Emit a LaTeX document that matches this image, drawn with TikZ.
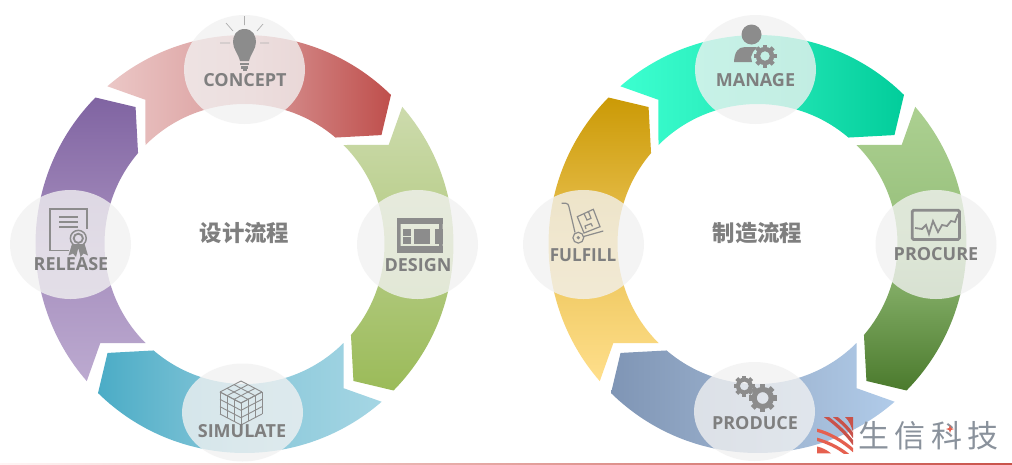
\documentclass[tikz,border=0pt]{standalone}
\usepackage{fontspec}
\setmainfont{Open Sans}
\newfontfamily\cjkfont{Noto Sans CJK SC}
\definecolor{icongray}{HTML}{8C8C8C}
\definecolor{labelgray}{HTML}{7F7F7F}
\definecolor{logored}{HTML}{E5604F}
\definecolor{logodark}{HTML}{C9524A}
\definecolor{logogray}{HTML}{8A929C}
\tikzset{
  badge/.style={fill=black!5, opacity=0.78},
  steplabel/.style={text=labelgray, font=\fontsize{18}{20}\selectfont\bfseries, inner sep=0pt},
  ringtitle/.style={text=labelgray, font=\cjkfont\fontsize{22.4}{24}\selectfont\bfseries, inner sep=0pt},
  iconline/.style={draw=icongray, line width=1.2pt},
  iconfill/.style={fill=icongray}
}
% one arrow piece of a ring: centre x, rotation, shading
\newcommand{\ringseg}[3]{
  \shade [shift={(#1,244)}, y=1pt, #3] (#2+131:209) arc
  [start angle=#2+131, end angle=#2+45.5, radius=209]
  -- (#2+38.5:175) -- (#2+49.5:140) arc
  [start angle=#2+49.5, end angle=#2+135, radius=140]
  -- (#2+124.5:175) -- cycle;
}
% gear: centre x, centre y, outer radius
\newcommand{\gearicon}[3]{
  \fill [iconfill, even odd rule] (#1,#2) circle [radius=0.8*#3pt] (#1,#2) circle [radius=0.42*#3pt];
  \foreach \t in {0,45,...,315}
    \fill [iconfill, shift={(#1,#2)}, rotate=\t] (0.7*#3,-0.19*#3) rectangle (#3,0.19*#3);
}
\begin{document}
\begin{tikzpicture}[x=1pt,y=-1pt]
  \useasboundingbox (0,0) rectangle (1012,464);
  \fill [white] (0,0) rectangle (1012,464);
  \shade [left color=red!4!white, right color=logodark] (0,463) rectangle (1012,464);

  % left ring
  \ringseg{244.5}{0}{left color={rgb,255:red,235;green,199;blue,198}, right color={rgb,255:red,191;green,79;blue,76}, middle color={rgb,255:red,217;green,154;blue,154}}
  \ringseg{244.5}{-90}{top color={rgb,255:red,205;green,219;blue,173}, bottom color={rgb,255:red,155;green,187;blue,89}}
  \ringseg{244.5}{-180}{left color={rgb,255:red,75;green,172;blue,198}, right color={rgb,255:red,165;green,214;blue,228}, middle color={rgb,255:red,136;green,199;blue,217}}
  \ringseg{244.5}{-270}{top color={rgb,255:red,128;green,100;blue,162}, bottom color={rgb,255:red,188;green,170;blue,208}, middle color={rgb,255:red,164;green,140;blue,188}}

  % right ring
  \ringseg{757.5}{0}{left color={rgb,255:red,60;green,255;blue,208}, right color={rgb,255:red,2;green,205;blue,155}, middle color={rgb,255:red,37;green,232;blue,183}}
  \ringseg{757.5}{-90}{top color={rgb,255:red,172;green,208;blue,145}, bottom color={rgb,255:red,75;green,122;blue,45}, middle color={rgb,255:red,148;green,189;blue,120}}
  \ringseg{757.5}{-180}{left color={rgb,255:red,127;green,149;blue,181}, right color={rgb,255:red,176;green,203;blue,233}, middle color={rgb,255:red,155;green,177;blue,205}}
  \ringseg{757.5}{-270}{top color={rgb,255:red,203;green,154;blue,6}, bottom color={rgb,255:red,255;green,223;blue,140}, middle color={rgb,255:red,234;green,194;blue,84}}

  % badges
  \fill [badge] (244.5,69.5) ellipse [x radius=60.5pt, y radius=54.5pt];
  \fill [badge] (417.5,244.5) ellipse [x radius=60.5pt, y radius=54.5pt];
  \fill [badge] (242.5,412.5) ellipse [x radius=60.5pt, y radius=49pt];
  \fill [badge] (70.5,244.5) ellipse [x radius=60.5pt, y radius=54.5pt];
  \fill [badge] (755.5,69.5) ellipse [x radius=60.5pt, y radius=54.5pt];
  \fill [badge] (936,244.5) ellipse [x radius=60.5pt, y radius=54.5pt];
  \fill [badge] (754.5,411.5) ellipse [x radius=60.5pt, y radius=49.5pt];
  \fill [badge] (583.5,244.5) ellipse [x radius=60.5pt, y radius=54.5pt];

  % bulb
  \draw [icongray!70, line width=0.7pt] (244.5,16) -- (244.5,25) (226,23) -- (233,31)
    (263,24) -- (257,31) (220,43) -- (230,43) (260,43) -- (269,43);
  \fill [iconfill] (244.5,29) .. controls (236,29) and (233,36) .. (233,42)
    .. controls (233,49) and (238,53) .. (240,61) -- (249,61)
    .. controls (251,53) and (256,49) .. (256,42)
    .. controls (256,36) and (253,29) .. (244.5,29) -- cycle;
  \fill [iconfill] (240,62.5) rectangle (249,65);
  \fill [iconfill] (241,66) rectangle (248,68.5);
  \fill [iconfill] (242.5,69) rectangle (246.5,70.5);

  % window
  \draw [icongray, line width=3.5pt, rounded corners=1.5pt] (398.8,219.8) rectangle (440.8,251.2);
  \fill [iconfill] (397,218) rectangle (442.5,224);
  \fill [iconfill] (403.3,229) rectangle (411,235.7);
  \fill [iconfill] (403.3,237.3) rectangle (411,243.7);
  \fill [iconfill] (414.3,229) rectangle (430,243.7);
  \fill [iconfill] (435,229) rectangle (442.5,244);
  \fill [iconfill] (397,246) rectangle (442.5,253);

  % cube
  \foreach \i in {0,1,2,3} {
    \draw [icongray, line width=0.9pt] (220,392+\i*7.33) -- (241,403+\i*7.33) -- (262,392+\i*7.33);
    \draw [icongray, line width=0.9pt] (220+\i*7,392+\i*3.67) -- (220+\i*7,414+\i*3.67);
    \draw [icongray, line width=0.9pt] (241+\i*7,403-\i*3.67) -- (241+\i*7,425-\i*3.67);
    \draw [icongray, line width=0.9pt] (220+\i*7,392-\i*3.67) -- (241+\i*7,403-\i*3.67);
    \draw [icongray, line width=0.9pt] (220+\i*7,392+\i*3.67) -- (241+\i*7,381+\i*3.67);
  }

  % certificate
  \draw [iconline] (87,229) -- (87,209) -- (50,209) -- (50,250.5) -- (69,250.5);
  \draw [iconline] (59,217) -- (78,217) (59,222) -- (78,222) (59,227) -- (78,227);
  \fill [iconfill] (72,244) -- (68.5,255.5) -- (73,253.5) -- (76,257) -- (78.3,248) -- (80.6,257)
    -- (83.6,253.5) -- (88,255.5) -- (84.6,244) -- cycle;
  \fill [iconfill, even odd rule] (78.3,238.3) circle [radius=8.7pt] (78.3,238.3) circle [radius=7.2pt];
  \fill [iconfill, even odd rule] (78.3,238.3) circle [radius=5.6pt] (78.3,238.3) circle [radius=3.6pt];

  % manager
  \fill [iconfill] (751.5,34.5) circle [radius=10pt];
  \fill [iconfill] (734,62) .. controls (734.5,52) and (738,47) .. (745,47) -- (757,47)
    -- (753,52) -- (751,57) -- (752,62) -- cycle;
  \gearicon{765}{56}{11.5}

  % chart
  \draw [icongray, line width=2.8pt, rounded corners=1.5pt] (912.2,210.2) rectangle (959.5,239.5);
  \draw [icongray, line width=1.8pt] (915,228) -- (922,229) -- (926,225) -- (929,234) -- (933,221)
    -- (938,232) -- (942,225) -- (947,226) -- (951,221) -- (955,222) -- (958,214);

  % gears
  \gearicon{744.3}{386}{10.5}
  \gearicon{762.7}{398}{14}

  % hand truck
  \draw [iconline] (561.7,203.3) -- (566,203.3) .. controls (568,203.3) and (568.5,205) .. (569,207) -- (575,232.5);
  \draw [iconline] (578.3,237.7) circle [radius=5.4pt];
  \fill [iconfill] (578.3,237.7) circle [radius=1.8pt];
  \draw [iconline] (583.6,236.5) -- (603.3,231);
  \draw [iconline] (577.3,216.7) -- (593.3,209.3) -- (600,226.7) -- (584,233) -- cycle;
  \draw [iconline] (584,213.6) -- (587,220) -- (591,218.3) -- (588.4,211.6);
  \draw [iconline] (586,229) -- (585,226) -- (591,223.6) -- (592.5,226.4);

  % ring labels
  \node [steplabel] (concept) at (245,80) {CONCEPT};
  \node [steplabel] (design) at (418,265) {DESIGN};
  \node [steplabel] (simulate) at (242,431) {SIMULATE};
  \node [steplabel] (release) at (71,264.5) {RELEASE};
  \node [steplabel] (manage) at (755.5,80) {MANAGE};
  \node [steplabel] (procure) at (936,254.5) {PROCURE};
  \node [steplabel] (produce) at (755,423) {PRODUCE};
  \node [steplabel, xscale=0.95] (fulfill) at (583,255) {FULFILL};
  \node [ringtitle] (designflow) at (244.5,233) {设计流程};
  \node [ringtitle] (makeflow) at (757.5,233) {制造流程};

  % logo
  \begin{scope}
    \clip (817,417) rectangle (853,453.3);
    \fill [logodark] (845,417) -- (853,417) -- (853,432) .. controls (851,425) and (849,421) .. (845,417) -- cycle;
    \draw [logodark, line width=3.2pt] (834,416) .. controls (843,423) and (849,429) .. (854,437);
    \draw [logodark, line width=3.2pt] (825,416) .. controls (836,424) and (846,433) .. (854,444);
    \draw [logored, line width=3.2pt] (816,430) .. controls (829,433) and (843,441) .. (854,451);
    \draw [logored, line width=3.2pt] (816,439) .. controls (827,442) and (838,447) .. (848,455);
    \fill [logored] (817,446.5) .. controls (822,447.5) and (827,450) .. (831,453.3) -- (817,453.3) -- cycle;
  \end{scope}
  \node [text=logogray, font=\cjkfont\fontsize{31}{33}\selectfont, inner sep=0pt] (logotext) at (928.5,436)
    {生\hspace{5.5pt}信\hspace{5.5pt}科\hspace{5.5pt}技};
  \fill [logored] (950,425) -- (951,428) -- (954,429) -- (951,430) -- (950,433) -- (949,430) -- (946,429) -- (949,428) -- cycle;
\end{tikzpicture}
\end{document}
